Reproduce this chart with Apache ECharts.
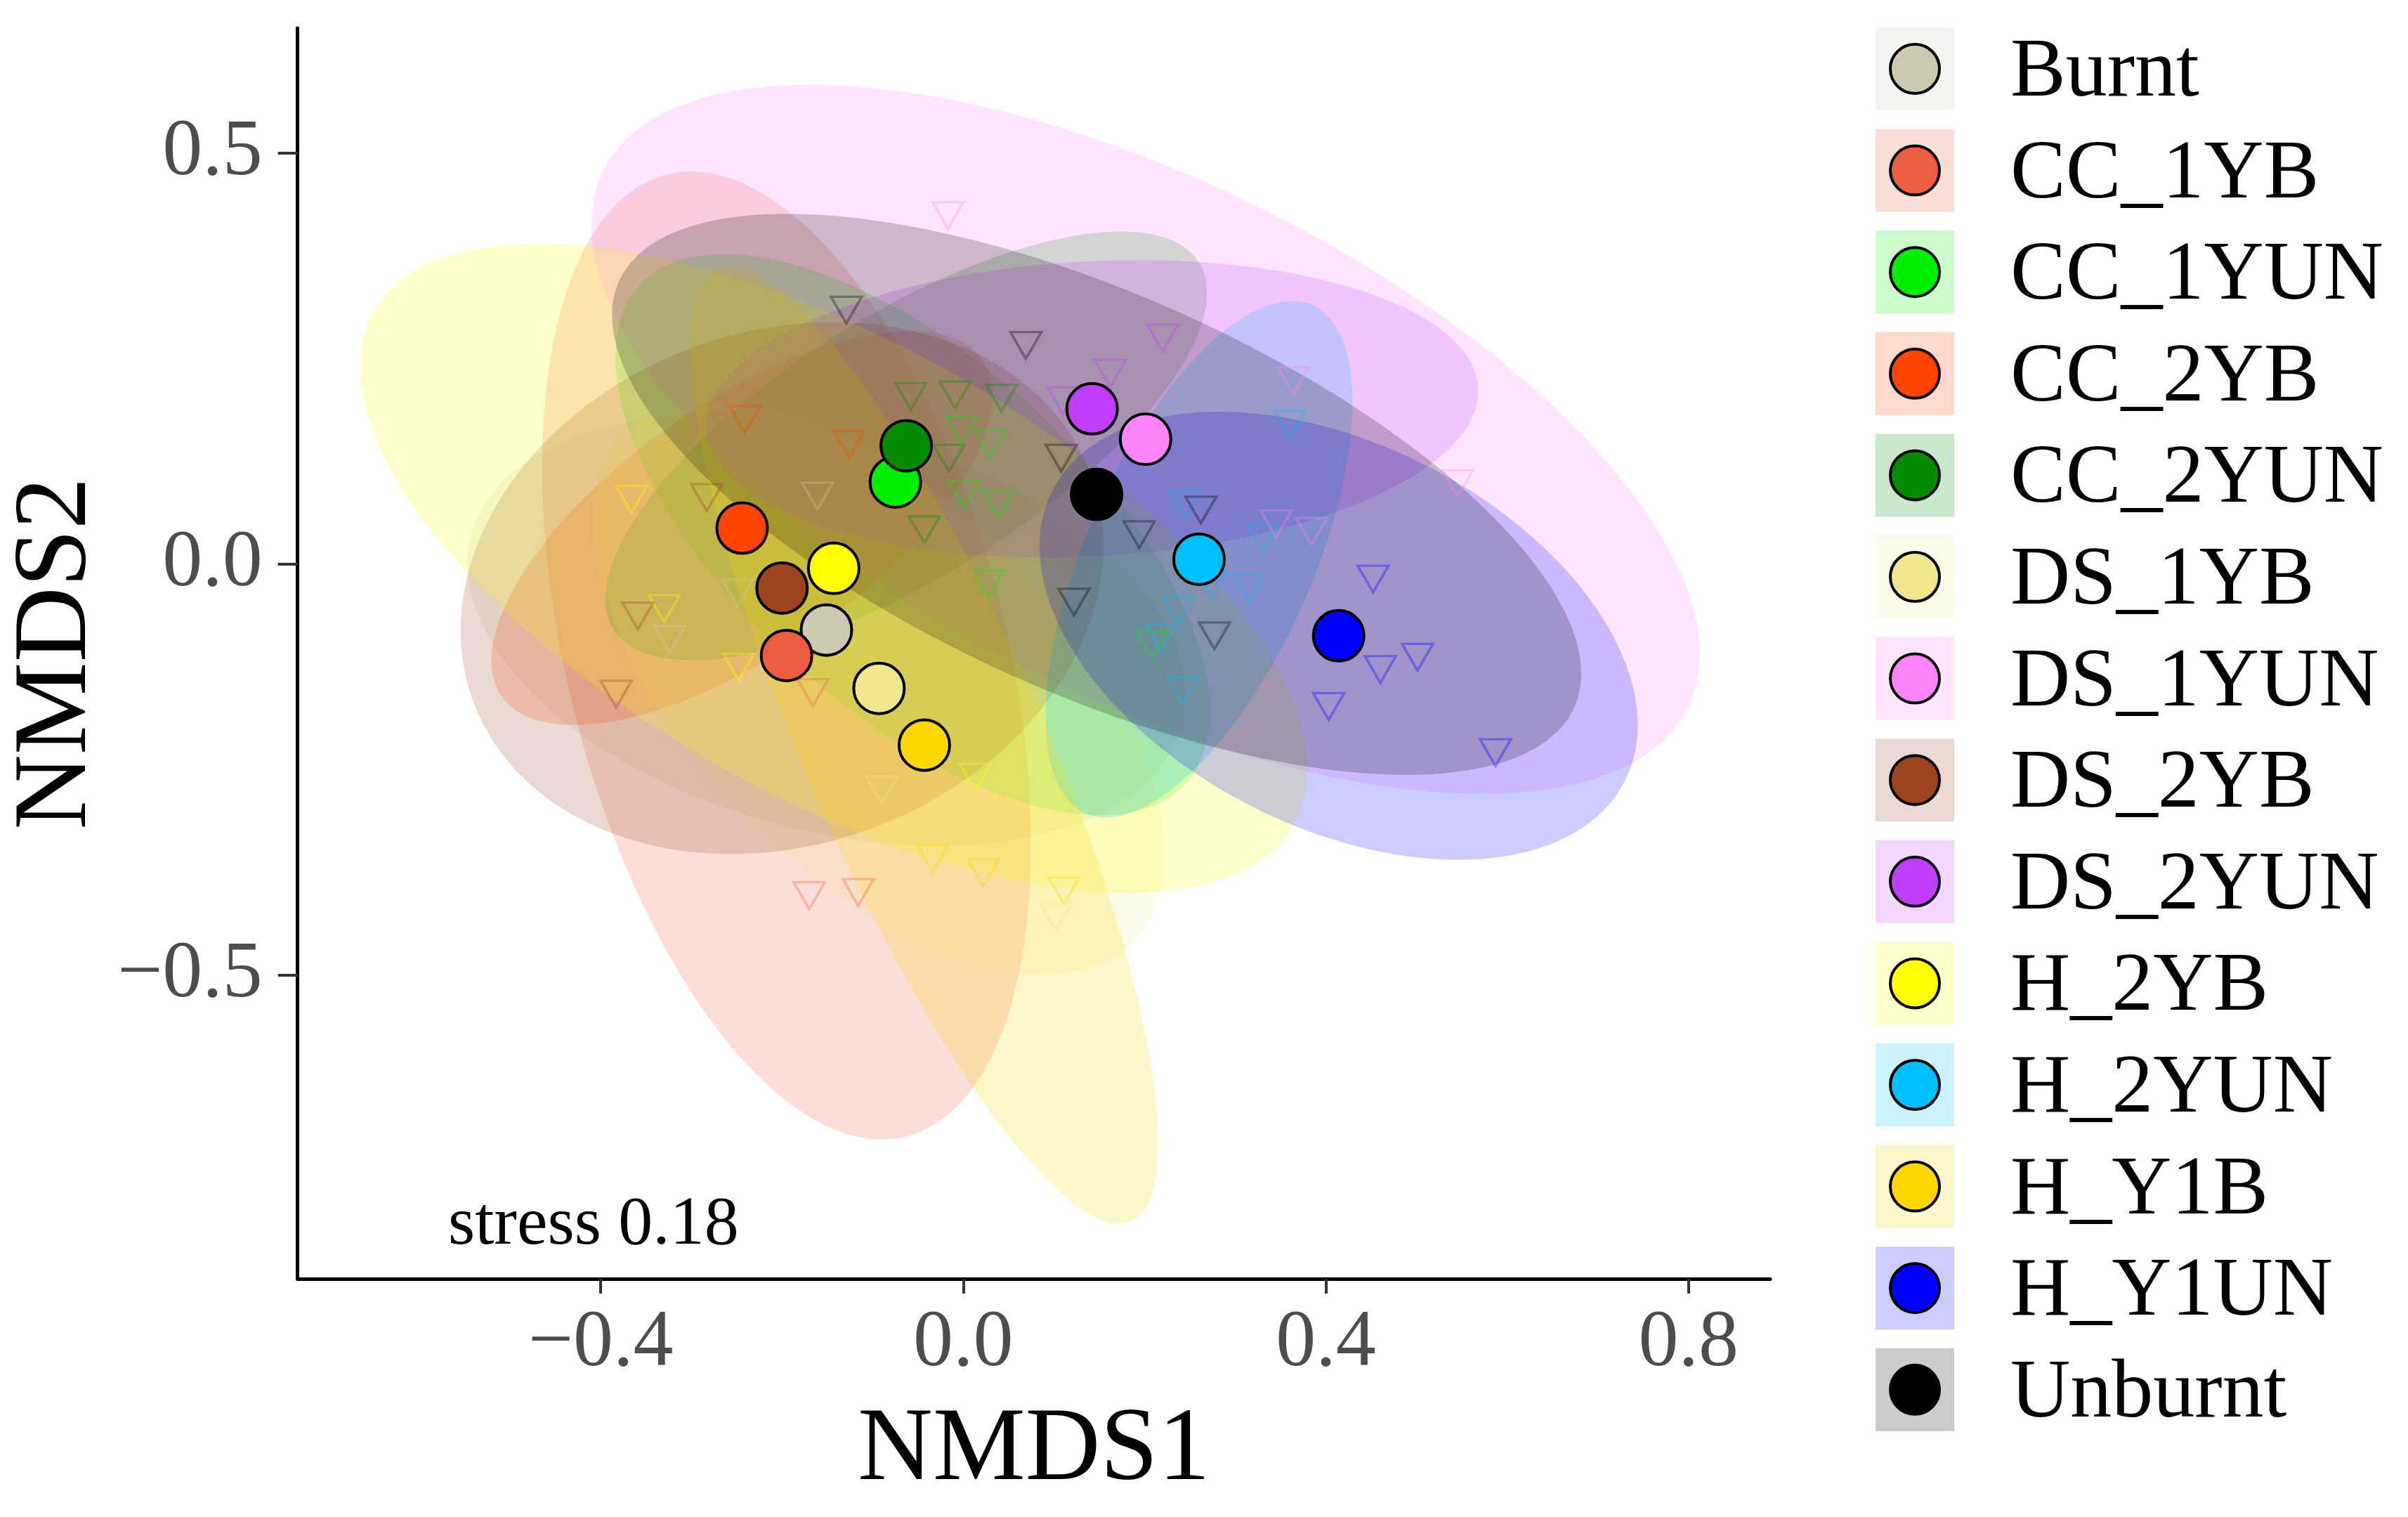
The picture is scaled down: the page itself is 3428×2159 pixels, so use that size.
<!DOCTYPE html>
<html>
<head>
<meta charset="utf-8" />
<title>NMDS</title>
<script src="https://cdn.jsdelivr.net/npm/echarts@6.0.0/dist/echarts.min.js"></script>
<style>
    html, body { margin: 0; padding: 0; background: #ffffff; }
    #main { width: 3428px; height: 2159px; }
</style>
</head>
<body>
<div id="main"></div>
<script type="text/javascript">
    // groups in legend order
    var groups = ['Burnt', 'CC_1YB', 'CC_1YUN', 'CC_2YB', 'CC_2YUN', 'DS_1YB', 'DS_1YUN',
        'DS_2YB', 'DS_2YUN', 'H_2YB', 'H_2YUN', 'H_Y1B', 'H_Y1UN', 'Unburnt'];
    var groupColors = ['#CDC8B1', '#EE5C42', '#00EE00', '#FF4500', '#008B00', '#F0E68C', '#FF83FA',
        '#9C4420', '#BF3EFF', '#FFFF00', '#00BFFF', '#FFD700', '#0000FF', '#000000'];

    // group centroids
    var centroidX = [-0.151, -0.195, -0.075, -0.244, -0.063, -0.093, 0.201,
        -0.200, 0.142, -0.143, 0.260, -0.043, 0.414, 0.147];
    var centroidY = [-0.080, -0.111, 0.100, 0.044, 0.144, -0.151, 0.152,
        -0.029, 0.189, -0.005, 0.006, -0.220, -0.087, 0.085];

    // ellipse centres
    var ellipseCX = [-0.151, -0.195, -0.056, -0.244, -0.063, -0.093, 0.201,
        -0.200, 0.142, -0.143, 0.260, -0.043, 0.414, 0.147];
    var ellipseCY = [-0.080, -0.111, 0.036, 0.044, 0.144, -0.151, 0.152,
        -0.029, 0.189, -0.005, 0.006, -0.220, -0.087, 0.085];
    // ellipse semi-axes, two conjugate vectors in NMDS units
    var ellipseU = [[0.392, -0.116], [0.132, -0.585], [0.301, -0.303], [0.265, 0.205], [0.323, 0.223],
        [0.280, -0.309], [0.598, -0.327], [0.341, 0.137], [0.426, 0.025], [0.508, -0.311],
        [0.125, 0.309], [0.228, -0.579], [0.316, -0.176], [0.527, -0.259]];
    var ellipseV = [[-0.057, -0.235], [-0.235, -0.065], [-0.130, -0.157], [0.079, -0.124], [0.076, -0.135],
        [-0.145, -0.160], [-0.127, -0.281], [0.097, -0.293], [0.008, -0.179], [-0.122, -0.243],
        [0.114, -0.056], [-0.121, -0.058], [-0.095, -0.208], [-0.090, -0.222]];

    // sites
    var siteX = [-0.017, -0.129, 0.069, 0.220, 0.162, 0.110, -0.241, -0.058, -0.009, 0.042,
        -0.002, 0.030, -0.126, 0.108, -0.016, -0.366, -0.283, -0.161, 0.001, 0.039,
        -0.043, 0.194, 0.028, 0.245, 0.262, 0.237, 0.122, -0.330, -0.359, -0.249,
        0.364, 0.360, 0.545, 0.345, 0.330, 0.384, 0.274, 0.315, 0.452, 0.218,
        0.277, 0.208, 0.501, 0.460, 0.242, 0.403, 0.587, -0.324, -0.248, -0.383,
        -0.166, -0.090, 0.013, -0.009, -0.034, 0.022, 0.111, 0.102, -0.170, -0.116];
    var siteY = [0.424, 0.309, 0.266, 0.275, 0.232, 0.199, 0.176, 0.204, 0.206, 0.202,
        0.163, 0.146, 0.146, 0.129, 0.129, 0.079, 0.081, 0.083, 0.085, 0.073,
        0.042, 0.036, -0.024, 0.073, 0.066, -0.055, -0.046, -0.054, -0.063, -0.035,
        0.223, 0.170, 0.098, 0.049, 0.032, 0.040, -0.025, -0.029, -0.018, -0.089,
        -0.087, -0.098, -0.113, -0.128, -0.154, -0.173, -0.229, -0.091, -0.125, -0.158,
        -0.156, -0.274, -0.259, -0.296, -0.358, -0.375, -0.397, -0.429, -0.403, -0.399];
    var siteGroup = ['DS_1YUN', 'Unburnt', 'Unburnt', 'DS_2YUN', 'DS_2YUN', 'DS_2YUN', 'CC_2YB', 'CC_2YUN', 'CC_2YUN', 'CC_2YUN',
        'CC_1YUN', 'CC_1YUN', 'CC_2YB', 'Unburnt', 'CC_2YUN', 'H_2YB', 'DS_2YB', 'Burnt', 'CC_1YUN', 'CC_1YUN',
        'CC_2YUN', 'Unburnt', 'CC_1YUN', 'H_2YUN', 'Unburnt', 'H_2YUN', 'Unburnt', 'H_2YB', 'DS_2YB', 'Burnt',
        'DS_1YUN', 'H_2YUN', 'DS_1YUN', 'DS_1YUN', 'H_2YUN', 'DS_1YUN', 'H_2YUN', 'H_2YUN', 'H_Y1UN', 'H_2YUN',
        'Unburnt', 'CC_1YUN', 'H_Y1UN', 'H_Y1UN', 'H_2YUN', 'H_Y1UN', 'H_Y1UN', 'Burnt', 'H_2YB', 'DS_2YB',
        'CC_1YB', 'DS_1YB', 'H_2YB', 'DS_1YB', 'H_Y1B', 'H_Y1B', 'H_Y1B', 'DS_1YB', 'CC_1YB', 'CC_1YB'];

    var xTicks = [-0.4, 0, 0.4, 0.8];
    var yTicks = [-0.5, 0, 0.5];
    var stressLabel = 'stress 0.18';

    function rgba(hex, a) {
        var n = parseInt(hex.slice(1), 16);
        return 'rgba(' + (n >> 16) + ',' + ((n >> 8) & 255) + ',' + (n & 255) + ',' + a + ')';
    }
    function tickText(v) {
        var s = Math.abs(v).toFixed(1);
        return v < 0 ? '\u2212' + s : s;
    }

    var serif = '"Liberation Serif", "DejaVu Serif", serif';
    var myChart = echarts.init(document.getElementById('main'), null, {renderer: 'canvas'});

    // ellipses drawn from centre + conjugate semi-axes
    var ellipseData = groups.map(function (g, i) {
        return [ellipseCX[i], ellipseCY[i], i];
    });
    function renderEllipse(params, api) {
        var i = api.value(2);
        var cx = api.value(0), cy = api.value(1);
        var u = ellipseU[i], v = ellipseV[i];
        var pts = [];
        for (var k = 0; k < 120; k++) {
            var t = 2 * Math.PI * k / 120;
            pts.push(api.coord([cx + u[0] * Math.cos(t) + v[0] * Math.sin(t),
                cy + u[1] * Math.cos(t) + v[1] * Math.sin(t)]));
        }
        return {
            type: 'polygon',
            shape: {points: pts},
            style: {fill: rgba(groupColors[i], 0.2)}
        };
    }

    var siteData = siteX.map(function (x, k) {
        var gi = groups.indexOf(siteGroup[k]);
        return {value: [x, siteY[k]], itemStyle: {borderColor: rgba(groupColors[gi], 0.4)}};
    });
    var centroidData = groups.map(function (g, i) {
        return {name: g, value: [centroidX[i], centroidY[i]], itemStyle: {color: groupColors[i]}};
    });

    // legend drawn as graphic elements
    var legendEls = [];
    groups.forEach(function (g, i) {
        var top = 39 + i * 144.6;
        legendEls.push({type: 'rect', shape: {x: 2670, y: top, width: 112, height: 118},
            style: {fill: rgba(groupColors[i], 0.2)}});
        legendEls.push({type: 'circle', shape: {cx: 2726, cy: top + 59, r: 35},
            style: {fill: groupColors[i], stroke: '#000', lineWidth: 4}});
        legendEls.push({type: 'text', x: 2862, y: top + 66,
            style: {text: g, font: '118px ' + serif, fill: '#000', verticalAlign: 'middle', align: 'left'}});
    });
    legendEls.push({type: 'text', x: 638, y: 1744,
        style: {text: stressLabel, font: '98px ' + serif, fill: '#000', verticalAlign: 'middle', align: 'left'}});

    var option = {
        backgroundColor: '#ffffff',
        animation: false,
        grid: {left: 423, right: 908, top: 40, bottom: 339},
        xAxis: {
            type: 'value', min: -0.7343, max: 0.890,
            name: 'NMDS1', nameLocation: 'middle', nameGap: 172,
            nameTextStyle: {fontFamily: serif, fontSize: 148, color: '#000'},
            splitLine: {show: false},
            axisLine: {show: true, onZero: false, lineStyle: {color: '#000', width: 5}},
            axisTick: {show: true, length: 21, lineStyle: {color: '#333', width: 4}, customValues: xTicks},
            axisLabel: {margin: 36, fontFamily: serif, fontSize: 114, color: '#4d4d4d',
                customValues: xTicks, formatter: tickText}
        },
        yAxis: {
            type: 'value', min: -0.8689, max: 0.6519,
            name: 'NMDS2', nameLocation: 'middle', nameGap: 236,
            nameTextStyle: {fontFamily: serif, fontSize: 148, color: '#000'},
            splitLine: {show: false},
            axisLine: {show: true, onZero: false, lineStyle: {color: '#000', width: 5}},
            axisTick: {show: true, length: 28, lineStyle: {color: '#333', width: 4}, customValues: yTicks},
            axisLabel: {margin: 50, fontFamily: serif, fontSize: 114, color: '#4d4d4d',
                customValues: yTicks, formatter: tickText}
        },
        series: [
            {
                type: 'custom',
                renderItem: renderEllipse,
                data: ellipseData,
                silent: true,
                z: 1
            },
            {
                type: 'scatter',
                data: siteData,
                symbol: 'triangle',
                symbolRotate: 180,
                symbolSize: [44, 38],
                itemStyle: {color: 'rgba(0,0,0,0)', borderWidth: 3.5},
                z: 2
            },
            {
                type: 'scatter',
                data: centroidData,
                symbol: 'circle',
                symbolSize: 72,
                itemStyle: {borderColor: '#000', borderWidth: 4, opacity: 1},
                z: 3
            }
        ],
        graphic: legendEls
    };
    myChart.setOption(option);
</script>
</body>
</html>
